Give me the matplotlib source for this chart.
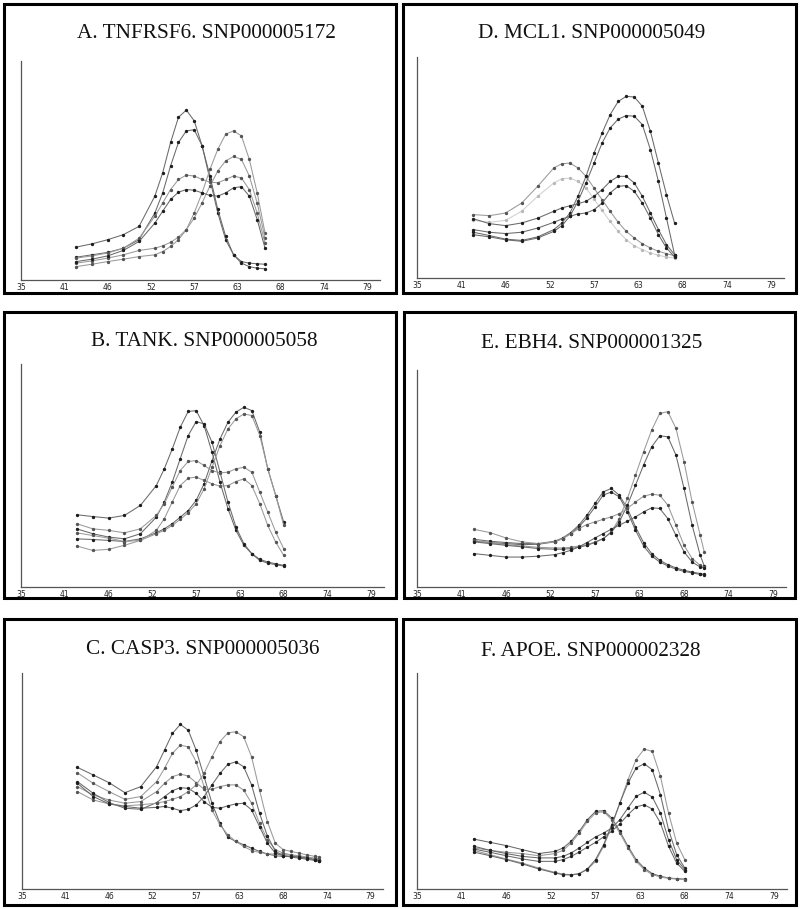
import matplotlib
matplotlib.use("Agg")
import matplotlib.pyplot as plt
from matplotlib.patches import Rectangle

# melting temperature grid (deg C) and -dF/dT traces, one list per sample
a_temp = [42, 44, 46, 48, 50, 52, 53, 54, 55, 56, 57, 58, 59, 60, 61, 62, 63, 64, 65, 66]
a_curves = [
    [15.0, 16.5, 18.4, 20.7, 24.5, 38.3, 49.0, 62.8, 74.3, 77.6, 72.7, 61.3, 45.9, 30.6, 18.4, 11.5, 8.4, 7.7, 7.4, 7.2],
    [10.4, 11.5, 12.6, 14.5, 18.4, 30.6, 39.8, 52.1, 62.8, 68.1, 68.6, 61.3, 47.5, 32.2, 19.9, 11.5, 7.7, 6.1, 5.4, 5.1],
    [6.1, 7.2, 8.4, 9.5, 10.7, 11.5, 13.0, 15.3, 18.4, 23.0, 30.6, 39.8, 50.5, 59.7, 66.6, 68.1, 65.8, 55.1, 39.8, 21.4],
    [7.7, 8.7, 10.0, 11.5, 13.5, 14.5, 15.6, 17.2, 19.6, 23.0, 28.3, 35.2, 42.9, 49.8, 54.4, 56.4, 55.1, 47.5, 35.2, 19.1],
    [10.0, 11.0, 12.3, 14.5, 19.1, 29.1, 35.2, 41.3, 45.9, 47.9, 47.5, 45.9, 44.7, 44.4, 45.9, 47.5, 46.6, 41.3, 30.6, 16.8],
    [8.4, 9.5, 11.0, 13.5, 17.6, 26.0, 31.4, 36.8, 40.1, 41.3, 41.0, 39.8, 38.6, 38.3, 39.8, 42.1, 42.6, 38.3, 27.6, 14.5],
]
a_tones = ["dark", "dark", "gray", "gray", "gray", "dark"]

b_temp = [42, 44, 46, 48, 50, 52, 53, 54, 55, 56, 57, 58, 59, 60, 61, 62, 63, 64, 65, 66, 67, 68]
b_curves = [
    [32.4, 31.6, 30.9, 32.1, 36.6, 45.5, 53.0, 61.9, 71.6, 78.7, 79.1, 72.4, 60.4, 47.0, 35.1, 25.4, 18.7, 14.9, 12.4, 11.2, 10.4, 9.7],
    [26.1, 23.9, 22.4, 21.6, 23.9, 31.3, 38.1, 47.0, 57.5, 67.9, 74.2, 73.1, 64.9, 51.5, 38.1, 26.9, 19.4, 14.9, 11.9, 10.7, 10.0, 9.4],
    [21.6, 21.3, 20.9, 20.4, 21.6, 24.3, 26.1, 28.4, 31.3, 34.3, 38.8, 46.3, 56.7, 66.4, 73.9, 78.4, 80.6, 79.1, 69.4, 53.0, 41.0, 29.1],
    [18.4, 16.4, 16.9, 18.7, 20.9, 23.9, 25.4, 27.6, 30.3, 33.3, 37.3, 44.0, 53.7, 63.4, 70.9, 75.4, 77.6, 76.9, 67.9, 53.0, 41.0, 27.6],
    [28.4, 26.1, 25.4, 24.3, 26.1, 32.1, 37.3, 44.8, 52.2, 56.3, 56.7, 54.5, 52.2, 51.2, 51.5, 53.0, 53.7, 51.5, 42.5, 33.6, 24.6, 17.2],
    [24.3, 23.1, 21.9, 20.4, 20.9, 25.4, 30.6, 38.1, 45.5, 48.8, 49.3, 47.8, 46.3, 45.2, 45.5, 47.3, 48.5, 45.5, 37.3, 27.6, 20.1, 14.2],
]
b_tones = ["dark", "dark", "dark", "gray", "gray", "gray"]

c_temp = [42, 44, 46, 48, 50, 52, 53, 54, 55, 56, 57, 58, 59, 60, 61, 62, 63, 64, 65, 66, 67, 68, 69, 70, 71, 72, 72.5]
c_curves = [
    [56.3, 52.8, 49.2, 44.6, 47.4, 56.6, 64.3, 72.0, 76.2, 73.5, 64.3, 52.0, 39.7, 30.5, 24.0, 22.0, 20.5, 18.9, 17.4, 16.2, 15.4, 15.1, 15.1, 14.8, 14.3, 13.8, 13.5],
    [53.8, 48.9, 45.1, 41.5, 42.8, 49.7, 55.8, 62.8, 66.6, 65.8, 58.9, 47.4, 36.6, 29.7, 25.1, 22.0, 19.7, 17.8, 16.9, 16.3, 16.2, 16.3, 15.8, 15.1, 14.3, 13.8, 13.5],
    [47.4, 43.5, 41.2, 39.7, 40.5, 45.1, 48.9, 52.0, 53.2, 52.3, 49.2, 46.2, 46.2, 47.4, 48.2, 48.2, 45.8, 39.7, 30.5, 22.8, 18.2, 16.6, 15.8, 15.4, 14.8, 14.3, 14.0],
    [49.7, 44.3, 40.0, 37.4, 36.9, 40.0, 42.8, 45.5, 46.9, 46.6, 44.3, 40.5, 37.8, 37.4, 38.5, 39.4, 39.7, 36.6, 28.9, 21.2, 16.6, 15.4, 15.1, 14.8, 14.3, 13.5, 13.1],
    [45.1, 41.2, 39.4, 38.5, 39.0, 39.7, 40.5, 41.5, 42.8, 45.1, 48.2, 53.5, 61.2, 68.2, 72.3, 72.8, 70.5, 61.2, 45.8, 31.2, 21.2, 18.2, 17.4, 16.6, 15.8, 15.1, 14.8],
    [48.9, 42.8, 39.4, 38.2, 37.4, 37.8, 38.2, 37.4, 36.3, 36.9, 38.9, 42.8, 48.2, 53.5, 57.7, 58.9, 56.6, 48.2, 35.1, 24.5, 17.5, 15.4, 14.8, 14.3, 13.8, 13.2, 12.8],
]
c_tones = ["dark", "gray", "gray", "dark", "gray", "dark"]

d_temp = [42, 44, 46, 48, 50, 52, 53, 54, 55, 56, 57, 58, 59, 60, 61, 62, 63, 64, 65, 66, 67]
d_curves = [
    [28.7, 28.2, 29.4, 33.9, 41.5, 49.8, 51.7, 52.0, 49.8, 46.0, 40.7, 35.4, 30.2, 25.2, 21.1, 18.1, 15.5, 13.6, 12.1, 11.0, 10.1],
    [26.1, 25.2, 26.1, 30.2, 37.0, 43.0, 44.9, 45.2, 43.7, 40.7, 35.7, 30.6, 25.6, 21.1, 17.3, 14.6, 12.8, 11.3, 10.3, 9.5, 9.0],
    [26.8, 24.6, 23.7, 24.9, 27.1, 30.2, 31.7, 32.7, 33.6, 34.7, 37.0, 40.0, 43.7, 46.0, 46.0, 43.0, 37.0, 29.4, 21.9, 15.1, 10.6],
    [21.9, 20.7, 20.1, 20.7, 22.6, 25.2, 26.7, 27.9, 29.0, 29.4, 30.9, 33.9, 38.5, 41.5, 41.8, 39.2, 33.9, 27.1, 19.6, 13.6, 9.5],
    [20.7, 19.2, 17.6, 17.0, 18.6, 21.9, 24.9, 29.4, 37.0, 46.0, 56.6, 65.6, 73.9, 79.9, 82.2, 81.9, 77.7, 66.4, 52.0, 37.7, 24.9],
    [19.6, 18.6, 17.3, 16.6, 18.1, 21.1, 23.7, 27.9, 34.7, 43.0, 52.0, 61.1, 67.9, 71.9, 73.5, 73.2, 69.4, 58.1, 43.7, 27.1, 10.6],
]
d_tones = ["gray", "light", "dark", "dark", "dark", "dark"]

e_temp = [42, 44, 46, 48, 50, 52, 53, 54, 55, 56, 57, 58, 59, 60, 61, 62, 63, 64, 65, 66, 67, 68, 69, 70, 70.5]
e_curves = [
    [22.0, 21.1, 20.5, 20.0, 20.0, 21.1, 22.6, 25.1, 28.5, 33.1, 38.5, 43.8, 45.4, 42.3, 36.2, 27.7, 20.5, 15.4, 12.3, 10.3, 8.8, 7.7, 6.9, 6.2, 5.8],
    [21.1, 20.5, 20.0, 19.5, 19.7, 20.8, 22.3, 24.6, 27.7, 31.8, 36.9, 42.3, 43.8, 41.5, 34.6, 26.2, 18.9, 14.3, 11.5, 9.7, 8.2, 7.2, 6.5, 5.8, 5.6],
    [21.5, 20.5, 19.5, 18.9, 18.3, 18.0, 18.0, 18.3, 18.9, 19.5, 20.8, 22.3, 25.4, 31.5, 40.8, 51.5, 62.3, 72.3, 80.0, 80.8, 73.1, 57.7, 39.2, 23.8, 16.2],
    [20.8, 20.0, 19.2, 18.5, 17.7, 17.4, 17.4, 17.7, 18.3, 19.2, 20.5, 22.3, 25.1, 30.0, 37.7, 46.9, 56.2, 64.6, 69.7, 69.2, 60.8, 45.4, 28.5, 14.6, 9.7],
    [26.6, 25.1, 22.6, 20.8, 20.0, 20.8, 22.3, 24.6, 26.9, 28.8, 30.0, 31.2, 32.3, 33.8, 36.2, 39.2, 41.8, 42.8, 42.3, 37.7, 28.5, 19.2, 13.1, 10.0, 9.2],
    [15.4, 14.6, 13.8, 13.8, 14.2, 14.9, 15.8, 16.9, 18.5, 20.5, 22.6, 24.6, 26.6, 28.5, 30.3, 32.3, 34.6, 36.5, 36.2, 31.5, 23.8, 16.2, 11.5, 9.2, 8.8],
]
e_tones = ["dark", "dark", "gray", "dark", "gray", "dark"]

f_temp = [42, 44, 46, 48, 50, 52, 53, 54, 55, 56, 57, 58, 59, 60, 61, 62, 63, 64, 65, 66, 67, 68]
f_curves = [
    [23.1, 21.6, 20.1, 18.2, 16.4, 17.4, 19.0, 22.1, 26.7, 32.1, 35.9, 36.3, 32.9, 26.7, 19.8, 13.6, 9.7, 7.1, 5.9, 5.1, 4.8, 4.6],
    [19.0, 17.9, 17.0, 16.4, 15.4, 16.4, 17.9, 21.3, 25.9, 31.3, 35.2, 35.8, 32.1, 25.9, 19.0, 12.8, 9.0, 6.6, 5.6, 4.9, 4.6, 4.3],
    [17.9, 15.9, 13.9, 12.0, 9.7, 7.7, 6.9, 6.6, 7.1, 9.0, 12.8, 19.8, 29.0, 39.8, 50.6, 59.9, 64.8, 63.7, 52.2, 35.2, 21.3, 13.6],
    [17.1, 15.4, 13.6, 11.6, 9.3, 7.4, 6.6, 6.5, 7.1, 9.3, 13.6, 20.5, 29.8, 39.8, 49.1, 56.0, 58.0, 55.2, 43.7, 27.5, 15.9, 9.7],
    [19.8, 17.9, 16.4, 15.1, 14.4, 14.4, 15.1, 16.7, 19.0, 21.6, 24.1, 25.9, 28.2, 32.1, 37.5, 42.9, 44.8, 42.6, 35.2, 22.8, 13.6, 9.0],
    [18.5, 17.0, 15.4, 13.9, 12.8, 12.8, 13.6, 15.1, 17.1, 19.4, 21.6, 24.1, 26.7, 30.2, 34.4, 38.0, 39.0, 37.0, 30.6, 19.8, 12.0, 8.2],
]
f_tones = ["dark", "gray", "gray", "dark", "dark", "dark"]

titles = ["A. TNFRSF6. SNP000005172", "B. TANK. SNP000005058", "C. CASP3. SNP000005036",
          "D. MCL1. SNP000005049", "E. EBH4. SNP000001325", "F. APOE. SNP000002328"]
tick_pos = [35, 40.5, 46, 51.5, 57, 62.5, 68, 73.5, 79]
tick_labels = ["35", "41", "46", "52", "57", "63", "68", "74", "79"]

panels = [(a_temp, a_curves, a_tones), (b_temp, b_curves, b_tones), (c_temp, c_curves, c_tones),
          (d_temp, d_curves, d_tones), (e_temp, e_curves, e_tones), (f_temp, f_curves, f_tones)]

tone_style = {
    "dark": dict(color="#6a6a6a", markerfacecolor="#1e1e1e", markeredgecolor="#1e1e1e"),
    "gray": dict(color="#9a9a9a", markerfacecolor="#555555", markeredgecolor="#555555"),
    "light": dict(color="#d0d0d0", markerfacecolor="#b8b8b8", markeredgecolor="#b8b8b8"),
}

W, H = 800, 909
fig = plt.figure(figsize=(W / 100, H / 100), dpi=100)

# pixel layout: boxes, plot areas, title centres  (x0, y0_top, x1, y1_bottom)
boxes = [(4, 4, 396, 293), (4, 312, 396, 598), (4, 619, 396, 905),
         (403, 4, 796, 293), (404, 312, 795, 598), (403, 619, 796, 905)]
plots = [(21, 61, 380, 280), (21, 364, 384, 587), (22, 673, 383, 889),
         (417, 57, 784, 278), (417, 370, 786, 587), (417, 673, 787, 889)]
title_xy = [(206, 33), (204, 341), (203, 650), (592, 33), (592, 343), (591, 652)]

for i in range(6):
    bx0, by0, bx1, by1 = boxes[i]
    fig.patches.append(Rectangle((bx0 / W, 1 - by1 / H), (bx1 - bx0) / W, (by1 - by0) / H,
                                 transform=fig.transFigure, fill=False, lw=2.2, ec="black"))
    tx, ty = title_xy[i]
    fig.text(tx / W, 1 - ty / H, titles[i], ha="center", va="center",
             family="Liberation Serif", fontsize=15.3, color="#111111")

    px0, py0, px1, py1 = plots[i]
    ax = fig.add_axes([px0 / W, 1 - py1 / H, (px1 - px0) / W, (py1 - py0) / H])
    temp, curves, tones = panels[i]
    for ys, tone in zip(curves, tones):
        ax.plot(temp, ys, lw=0.75, marker="o", markersize=1.4, **tone_style[tone])
    ax.set_xlim(35, 80.6)
    ax.set_ylim(0, 100)
    ax.set_xticks(tick_pos)
    ax.set_xticklabels(tick_labels)
    ax.set_yticks([])
    ax.tick_params(axis="x", length=0, pad=2, labelsize=5.5, labelcolor="#222222")
    for side in ("top", "right"):
        ax.spines[side].set_visible(False)
    for side in ("left", "bottom"):
        ax.spines[side].set_color("#555555")
        ax.spines[side].set_linewidth(0.9)
    ax.patch.set_alpha(0)

fig.savefig("out.png", dpi=100, facecolor="white")
